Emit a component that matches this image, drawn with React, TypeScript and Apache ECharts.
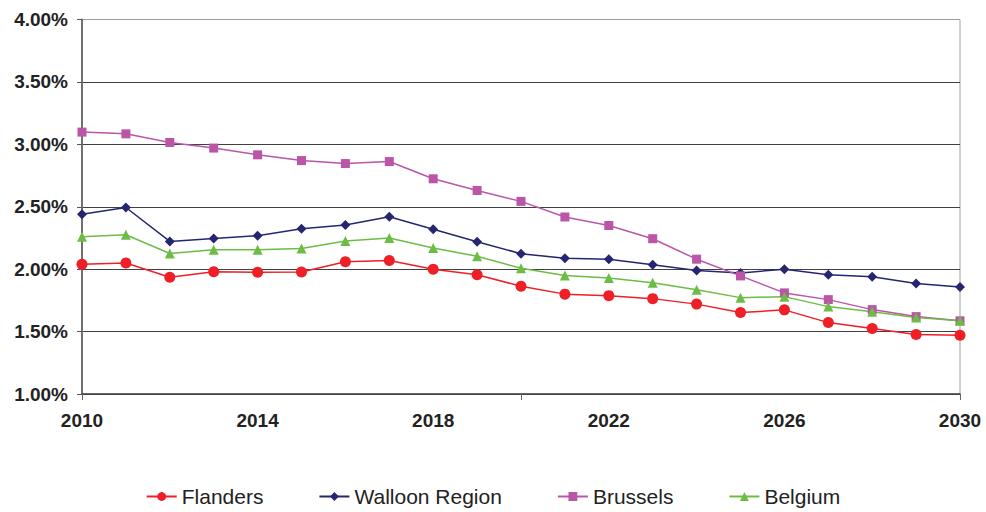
import React, { useEffect, useRef } from "react";
import * as echarts from "echarts";

const years = [2010, 2011, 2012, 2013, 2014, 2015, 2016, 2017, 2018, 2019, 2020, 2021, 2022, 2023, 2024, 2025, 2026, 2027, 2028, 2029, 2030];
const flanders = [2.04, 2.05, 1.935, 1.98, 1.975, 1.977, 2.06, 2.07, 2.0, 1.956, 1.863, 1.8, 1.788, 1.764, 1.72, 1.652, 1.674, 1.572, 1.524, 1.476, 1.47];
const walloon = [2.44, 2.494, 2.222, 2.246, 2.268, 2.324, 2.353, 2.42, 2.32, 2.22, 2.124, 2.087, 2.08, 2.036, 1.99, 1.97, 2.0, 1.956, 1.94, 1.886, 1.858];
const brussels = [3.098, 3.084, 3.015, 2.97, 2.916, 2.87, 2.846, 2.862, 2.724, 2.63, 2.543, 2.418, 2.35, 2.244, 2.08, 1.946, 1.81, 1.756, 1.676, 1.62, 1.586];
const belgium = [2.26, 2.276, 2.126, 2.156, 2.156, 2.166, 2.225, 2.25, 2.17, 2.103, 2.007, 1.95, 1.93, 1.892, 1.836, 1.772, 1.78, 1.7, 1.658, 1.612, 1.586];
const xLabelYears = [2010, 2014, 2018, 2022, 2026, 2030];
const xTickYears = [2010, 2020, 2030];

const FONT = "'Liberation Sans', Arial, Helvetica, sans-serif";

export default function App() {
  const ref = useRef<HTMLDivElement>(null);
  useEffect(() => {
    if (!ref.current) return;
    const chart = echarts.init(ref.current, null, { renderer: "svg" });
    const mk = (name: string, data: number[], color: string, symbol: string, size: number) => ({
      name,
      type: "line",
      data: years.map((y, i) => [y, data[i]]),
      symbol,
      symbolSize: size,
      showSymbol: true,
      lineStyle: { color, width: 1.5 },
      itemStyle: { color },
    });
    chart.setOption({
      animation: false,
      textStyle: { fontFamily: FONT },
      grid: {
        left: 82,
        right: 26,
        top: 19.5,
        bottom: 118,
        show: true,
        borderColor: "#a0a0a0",
        borderWidth: 1,
      },
      legend: {
        left: "center",
        top: 481,
        itemWidth: 30,
        itemHeight: 11,
        itemGap: 55,
        textStyle: { fontSize: 21, color: "#222", fontFamily: FONT },
        data: ["Flanders", "Walloon Region", "Brussels", "Belgium"],
      },
      xAxis: {
        type: "value",
        min: 2010,
        max: 2030,
        interval: 1,
        axisLine: { lineStyle: { color: "#444", width: 1.5 } },
        axisTick: { show: true, length: 6, customValues: xTickYears, lineStyle: { color: "#666" } },
        splitLine: { show: false },
        axisLabel: {
          customValues: xLabelYears,
          formatter: (v: number) => String(v),
          fontSize: 19,
          fontWeight: "bold",
          color: "#222",
          margin: 17,
          fontFamily: FONT,
        },
      },
      yAxis: {
        type: "value",
        min: 1,
        max: 4,
        interval: 0.5,
        axisLine: { show: true, lineStyle: { color: "#707070", width: 2 } },
        axisTick: { show: true, length: 5, lineStyle: { color: "#555" } },
        splitLine: {
          show: true,
          lineStyle: {
            color: ["#404040", "#404040", "#404040", "#404040", "#404040", "#404040", "#a0a0a0"],
            width: 1,
          },
        },
        axisLabel: {
          formatter: (v: number) => v.toFixed(2) + "%",
          fontSize: 19,
          fontWeight: "bold",
          color: "#222",
          margin: 14,
          fontFamily: FONT,
        },
      },
      series: [
        mk("Flanders", flanders, "#ee1f26", "circle", 11),
        mk("Walloon Region", walloon, "#25266f", "diamond", 10),
        mk("Brussels", brussels, "#bb55a8", "rect", 9),
        mk("Belgium", belgium, "#6cbd45", "triangle", 10),
      ],
    });
    return () => chart.dispose();
  }, []);
  return <div ref={ref} style={{ width: 986, height: 512, position: "absolute", left: 0, top: 0 }} />;
}
